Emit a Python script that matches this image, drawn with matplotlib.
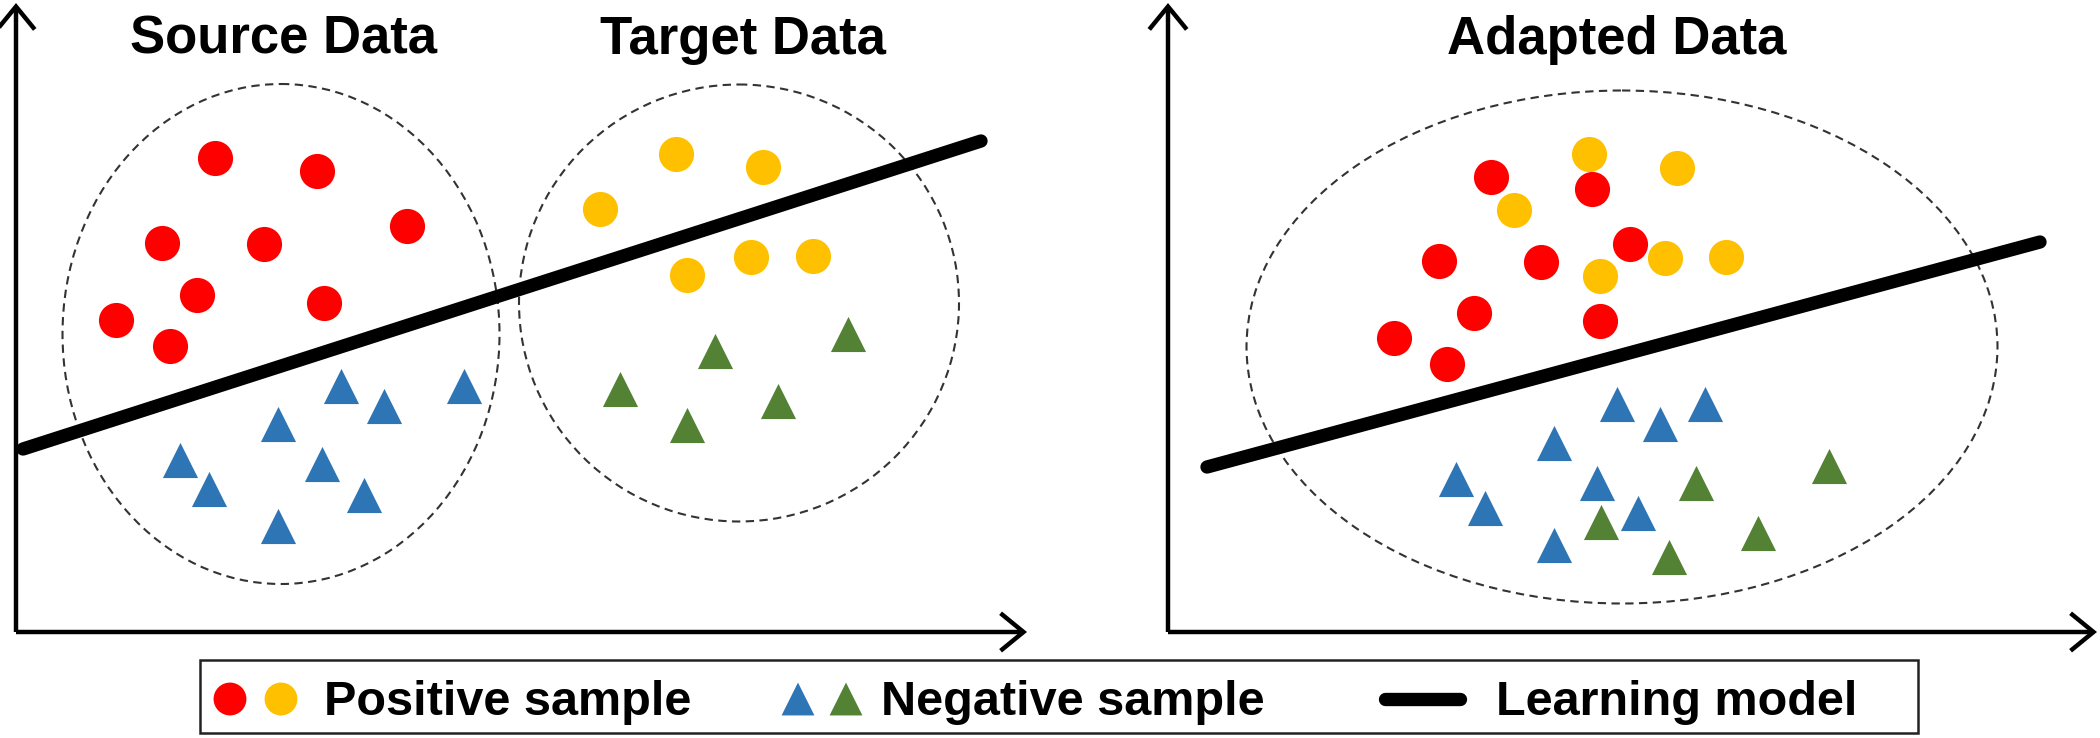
"""
plot.py

Domain adaptation sketch: source / target clusters with a learning model
(left) and the adapted data after alignment (right).
Everything is drawn in a pixel-like coordinate frame (0..2100 x 0..738).
"""

import matplotlib

matplotlib.use("Agg")
import matplotlib.pyplot as plt
from matplotlib.patches import Ellipse, FancyArrowPatch, Rectangle


# colours
RED = "#FF0000"
YELLOW = "#FFC000"
BLUE = "#2E75B6"
GREEN = "#548235"

# left panel: source data (red positives, blue negatives)
src_pos_x = [215, 317, 162, 264, 407, 197, 324, 116, 170]
src_pos_y = [158, 171, 243, 244, 226, 295, 303, 320, 346]
src_neg_x = [341, 384, 464, 278, 180, 322, 209, 364, 278]
src_neg_y = [386, 406, 386, 424, 460, 464, 489, 495, 526]

# left panel: target data (yellow positives, green negatives)
tgt_pos_x = [676, 763, 600, 687, 751, 813]
tgt_pos_y = [154, 167, 209, 275, 257, 256]
tgt_neg_x = [715, 848, 620, 778, 687]
tgt_neg_y = [351, 334, 389, 401, 425]

# right panel: adapted data
ad_red_x = [1491, 1592, 1439, 1541, 1630, 1474, 1600, 1394, 1447]
ad_red_y = [177, 189, 261, 262, 244, 313, 321, 338, 364]
ad_yel_x = [1589, 1677, 1514, 1600, 1665, 1726]
ad_yel_y = [154, 168, 210, 276, 258, 257]
ad_blue_x = [1617, 1660, 1705, 1554, 1456, 1597, 1485, 1638, 1554]
ad_blue_y = [404, 424, 404, 443, 479, 483, 508, 513, 545]
ad_green_x = [1829, 1696, 1601, 1758, 1669]
ad_green_y = [466, 483, 522, 533, 557]

# learning model lines (two end points each)
model_left_x = [23, 981]
model_left_y = [449, 141]
model_right_x = [1207, 2040]
model_right_y = [467, 242]

# dashed cluster outlines: centre x, centre y, width, height
clusters = [
    (281, 334, 437, 500),
    (739, 303, 440, 437),
    (1622, 347, 751, 513),
]

titles = ["Source Data", "Target Data", "Adapted Data"]
title_x = [283, 743, 1617]

legend_labels = ["Positive sample", "Negative sample", "Learning model"]

MARKER_S = 640  # ~35 px at dpi 100
LEGEND_S = 560


def draw_axes_frame(ax, x0, x1, y0, y_top):
    kw = dict(arrowstyle="->,head_length=0.55,head_width=0.45",
              mutation_scale=30, lw=3.2, color="black",
              shrinkA=0, shrinkB=0, joinstyle="miter", capstyle="butt")
    ax.add_patch(FancyArrowPatch((x0, y0), (x0, y_top), **kw))
    ax.add_patch(FancyArrowPatch((x0, y0), (x1, y0), **kw))


def draw_panel_points(ax, sets):
    for xs, ys, color, marker in sets:
        ax.scatter(xs, ys, s=MARKER_S, c=color, marker=marker,
                   linewidths=0, zorder=4)


def main():
    fig = plt.figure(figsize=(21, 7.38), dpi=100)
    ax = fig.add_axes([0, 0, 1, 1])
    ax.set_xlim(0, 2100)
    ax.set_ylim(738, 0)
    ax.axis("off")

    # axes with arrow heads
    draw_axes_frame(ax, 16, 1027, 632, 3)
    draw_axes_frame(ax, 1168, 2097, 632, 3)

    # dashed cluster outlines
    for cx, cy, w, h in clusters:
        ax.add_patch(Ellipse((cx, cy), w, h, fill=False, ec="#333333",
                             lw=1.5, ls=(0, (4, 2.6)), zorder=2))

    # learning model
    for xs, ys in [(model_left_x, model_left_y), (model_right_x, model_right_y)]:
        ax.plot(xs, ys, color="black", lw=9.6, solid_capstyle="round", zorder=3)

    draw_panel_points(ax, [
        (src_pos_x, src_pos_y, RED, "o"),
        (src_neg_x, src_neg_y, BLUE, "^"),
        (tgt_pos_x, tgt_pos_y, YELLOW, "o"),
        (tgt_neg_x, tgt_neg_y, GREEN, "^"),
        (ad_yel_x, ad_yel_y, YELLOW, "o"),
        (ad_red_x, ad_red_y, RED, "o"),
        (ad_blue_x, ad_blue_y, BLUE, "^"),
        (ad_green_x, ad_green_y, GREEN, "^"),
    ])

    # titles
    for t, x in zip(titles, title_x):
        ax.text(x, 54, t, ha="center", va="baseline", fontsize=38,
                fontweight="bold", family="Liberation Sans")

    # legend box, drawn by hand to keep the original spacing
    ax.add_patch(Rectangle((200, 660), 1718, 73, fill=False, ec="#222222",
                           lw=1.8, zorder=5))
    ly = 699
    ax.scatter([230, 281], [ly, ly], s=LEGEND_S, c=[RED, YELLOW], marker="o",
               linewidths=0, zorder=6)
    ax.scatter([798, 846], [ly, ly], s=LEGEND_S, c=[BLUE, GREEN], marker="^",
               linewidths=0, zorder=6)
    ax.plot([1385, 1460], [ly, ly], color="black", lw=9.6,
            solid_capstyle="round", zorder=6)
    for label, x in zip(legend_labels, [324, 881, 1496]):
        ax.text(x, 715, label, ha="left", va="baseline", fontsize=35,
                fontweight="bold", family="Liberation Sans", zorder=6)

    fig.savefig("out.png", dpi=100, facecolor="white")
    plt.close(fig)


if __name__ == "__main__":
    main()
